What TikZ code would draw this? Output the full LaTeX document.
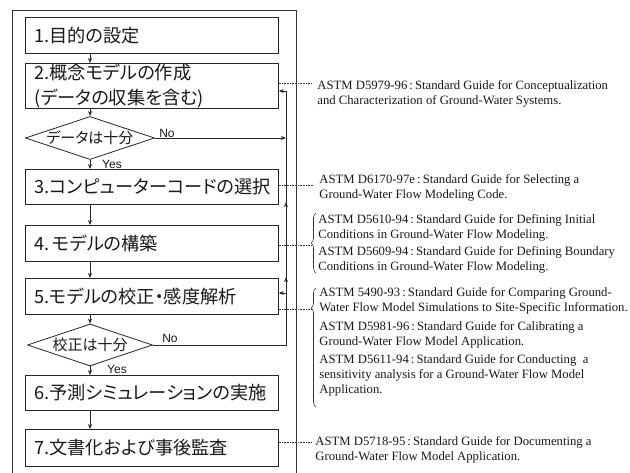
\documentclass[tikz,border=0pt]{standalone}
\usepackage{fontspec}
\setmainfont{Liberation Serif}
\newfontfamily\jpfont[RawFeature=+palt]{Noto Sans CJK JP}
\newfontfamily\lsans{Liberation Sans}
\usetikzlibrary{shapes.geometric,arrows.meta,decorations.pathreplacing,decorations.markings}
\begin{document}
\begin{tikzpicture}[x=1pt,y=-1pt,line width=0.8pt,
  stepbox/.style={draw=black!85,rectangle,inner xsep=9pt,inner ysep=0pt,text width=235pt,
    minimum height=36pt,align=left,anchor=north west,text=black!90,
    font=\jpfont\fontsize{18.2}{25}\selectfont},
  decision/.style={draw=black!85,diamond,aspect=3,inner sep=0pt,minimum width=125pt,
    minimum height=42pt,text=black!90,font=\jpfont\fontsize{15}{15}\selectfont},
  lbl/.style={inner sep=0pt,text=black!90,font=\lsans\fontsize{12}{12}\selectfont},
  ref/.style={anchor=west,align=left,inner sep=0pt,text=black!90,
    font=\fontsize{12.7}{15}\selectfont},
  arr/.style={draw=black!85,-{Stealth[length=5pt,width=4pt]}},
  dots/.style={draw=black!80,line width=0.6pt,dash pattern=on 0.7pt off 0.9pt},
  brc/.style={draw=black!80,line width=0.6pt,decorate,decoration={brace,amplitude=5pt}}]
\useasboundingbox (0,0) rectangle (630,473);
\fill[white] (0,0) rectangle (630,473);
% outer frame
\draw[black!80] (12,473) -- (12,10) -- (296,10) -- (296,473);
% steps
\node[stepbox] (b1) at (25,17) {1.目的の設定};
\node[stepbox,minimum height=45pt] (b2) at (25,63) {2.概念モデルの作成\\(データの収集を含む)};
\node[decision] (d1) at (90,138) {データは十分};
\node[stepbox,minimum height=35pt] (b3) at (25,169) {3.コンピューターコードの選択};
\node[stepbox,minimum height=36pt] (b4) at (25,225) {4.\kern3pt モデルの構築};
\node[stepbox,minimum height=36pt] (b5) at (25,278) {5.モデルの校正・感度解析};
\node[decision] (d2) at (90,345) {校正は十分};
\node[stepbox,minimum height=35pt] (b6) at (25,375) {6.予測シミュレーションの実施};
\node[stepbox,minimum height=37pt] (b7) at (25,429) {7.文書化および事後監査};
% labels
\node[lbl] (no1) at (167,133) {No};
\node[lbl] (yes1) at (112,164) {Yes};
\node[lbl] (no2) at (170,338) {No};
\node[lbl] (yes2) at (117,369) {Yes};
% main flow
\draw[arr] (b1.south -| d1) -- (b2.north -| d1);
\draw[arr] (b2.south -| d1) -- (d1.north);
\draw[arr] (d1.south) -- (b3.north -| d1);
\draw[arr] (b3.south -| d1) -- (b4.north -| d1);
\draw[arr] (b4.south -| d1) -- (b5.north -| d1);
\draw[arr] (b5.south -| d2) -- (d2.north);
\draw[arr] (d2.south) -- (b6.north -| d2);
\draw[arr] (b6.south -| d2) -- (b7.north -| d2);
% feedback
\coordinate (fbin) at (286,91);
\coordinate (fb5) at (286,293);
\draw[arr] (d2.east) -- (d2.east -| fbin) -- (fbin) -- (fbin -| b2.east);
\path[decorate,decoration={markings,
   mark=at position 201pt with {\arrow[black!85]{Stealth[length=5pt,width=4pt]}},
   mark=at position 276pt with {\arrow[black!85]{Stealth[length=5pt,width=4pt]}}}]
   (d2.east) -- (d2.east -| fbin) -- (fbin) -- (fbin -| b2.east);
\draw[arr] (d1.east) -- (d1.east -| fbin);
\draw[arr] (fb5) -- (fb5 -| b5.east);
% references
\node[ref] (e1) at (317,94) {ASTM D5979-96\,:\,Standard Guide for Conceptualization\\and Characterization of Ground-Water Systems.};
\node[ref] (e2) at (319,188) {ASTM D6170-97e\,:\,Standard Guide for Selecting a\\Ground-Water Flow Modeling Code.};
\node[ref] (e3a) at (318,227.5) {ASTM D5610-94\,:\,Standard Guide for Defining Initial\\Conditions in Ground-Water Flow Modeling.};
\node[ref] (e3b) at (318,260) {ASTM D5609-94\,:\,Standard Guide for Defining Boundary\\Conditions in Ground-Water Flow Modeling.};
\node[ref] (e4a) at (319,300.5) {ASTM 5490-93\,:\,Standard Guide for Comparing Ground-\\Water Flow Model Simulations to Site-Specific Information.};
\node[ref] (e4b) at (319,334.5) {ASTM D5981-96\,:\,Standard Guide for Calibrating a\\Ground-Water Flow Model Application.};
\node[ref] (e4c) at (319,375) {ASTM D5611-94\,:\,Standard Guide for Conducting\ \ a\\sensitivity analysis for a Ground-Water Flow Model\\Application.};
\node[ref] (e5) at (315,449.5) {ASTM D5718-95\,:\,Standard Guide for Documenting a\\Ground-Water Flow Model Application.};
% braces
\draw[brc] (316,273) -- (316,213);
\draw[brc,decoration={brace,amplitude=5pt,aspect=0.83}] (316,407) -- (316,288);
% dotted leaders
\coordinate (c1) at (312,83);
\coordinate (c2) at (313,185);
\coordinate (c3) at (311,245);
\coordinate (c4) at (311,309);
\coordinate (c5) at (312,442);
\draw[dots] (b2.east |- c1) -- (c1);
\draw[dots] (b3.east |- c2) -- (c2);
\draw[dots] (b4.east |- c3) -- (c3);
\draw[dots] (b5.east |- c4) -- (c4);
\draw[dots] (b7.east |- c5) -- (c5);
\end{tikzpicture}
\end{document}
